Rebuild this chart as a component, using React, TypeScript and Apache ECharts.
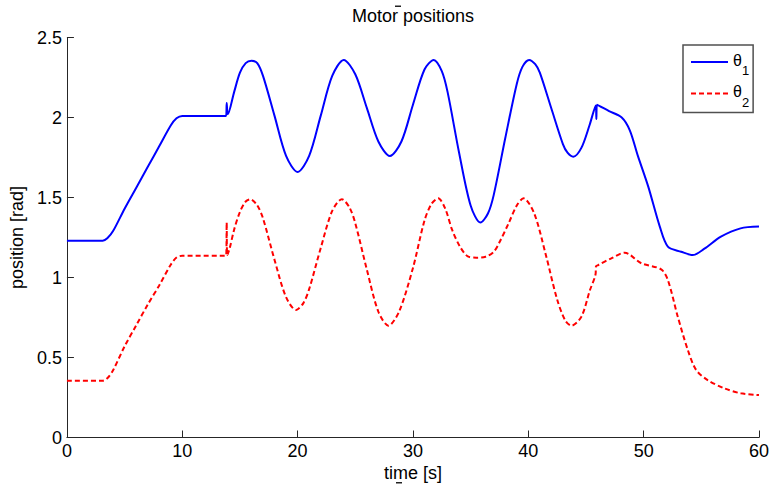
import React, { useEffect, useRef } from "react";
import * as echarts from "echarts";

const FONT = "'Liberation Sans', Arial, Helvetica, sans-serif";

const xTicks = { min: 0, max: 60, interval: 10 };
const yTicks = { min: 0, max: 2.5, interval: 0.5 };

const seriesNames = ["θ1", "θ2"];

const theta1: [number, number][] = [
  [0, 1.23], [3.1, 1.23], [3.5, 1.245], [4, 1.29], [5, 1.43], [6, 1.56], [7, 1.69],
  [8, 1.82], [9, 1.95], [9.5, 1.995], [10, 2.01], [13.8, 2.01], [13.85, 2.09],
  [13.95, 2.02], [14.5, 2.16], [15, 2.28], [15.5, 2.34], [16, 2.355], [16.5, 2.34],
  [17, 2.26], [18, 2.01], [19, 1.76], [20, 1.66], [21, 1.76], [22, 2.01], [23, 2.26],
  [24, 2.36], [25, 2.27], [26, 2.06], [27, 1.85], [28, 1.76], [29, 1.85], [30, 2.08],
  [31, 2.3], [31.8, 2.36], [32.5, 2.29], [33, 2.16], [34, 1.78], [35, 1.45],
  [35.85, 1.343], [36.5, 1.4], [37, 1.515], [38, 1.87], [39, 2.21], [39.5, 2.318],
  [40.07, 2.36], [40.6, 2.333], [41, 2.28], [42, 2.056], [43, 1.834], [43.4, 1.78],
  [43.9, 1.755], [44.6, 1.81], [45.3, 1.95], [45.85, 2.075], [45.9, 1.99],
  [45.95, 2.08], [47, 2.04], [48.1, 2.0], [48.8, 1.92], [49.5, 1.76], [50.4, 1.568],
  [51.4, 1.318], [52.1, 1.193], [53.25, 1.161], [54.26, 1.14], [55.27, 1.18],
  [56.7, 1.255], [58.4, 1.307], [60, 1.318],
];

const theta2: [number, number][] = [
  [0, 0.355], [3.1, 0.355], [3.5, 0.37], [4, 0.42], [5, 0.57], [6, 0.7], [7, 0.83],
  [8, 0.95], [9, 1.08], [9.5, 1.125], [10, 1.136], [13.8, 1.136], [13.85, 1.343],
  [13.9, 1.14], [14.1, 1.18], [14.5, 1.3], [15, 1.41], [15.5, 1.475], [15.9, 1.489],
  [16.5, 1.451], [17, 1.37], [18, 1.11], [19, 0.877], [19.87, 0.797], [20.5, 0.84],
  [21, 0.927], [22, 1.183], [23, 1.416], [23.84, 1.489], [24.5, 1.437], [25, 1.339],
  [26, 1.05], [27, 0.786], [27.87, 0.699], [28.8, 0.787], [30, 1.06], [31, 1.356],
  [31.6, 1.459], [32.19, 1.495], [32.8, 1.43], [33.4, 1.297], [34.1, 1.19],
  [34.8, 1.13], [35.5, 1.124], [36.3, 1.13], [37, 1.16], [37.5, 1.22], [38.3, 1.34],
  [39, 1.45], [39.58, 1.495], [40.5, 1.403], [41.5, 1.147], [42.5, 0.863],
  [43.2, 0.732], [43.75, 0.699], [44.6, 0.755], [45.34, 0.92], [45.83, 1.02],
  [45.87, 1.07], [46.06, 1.078], [47.2, 1.12], [48.36, 1.155], [49.8, 1.089],
  [51.52, 1.051], [52.1, 0.984], [52.96, 0.755], [53.83, 0.547], [54.55, 0.422],
  [55.55, 0.359], [57.0, 0.307], [58.43, 0.276], [60, 0.265],
];

const AXIS_COLOR = "#262626";

export default function App() {
  const ref = useRef<HTMLDivElement>(null);

  useEffect(() => {
    if (!ref.current) return;
    const chart = echarts.init(ref.current, undefined, { renderer: "svg" });
    const axisCommon = {
      axisLine: { show: true, lineStyle: { color: AXIS_COLOR, width: 1 } },
      axisTick: { show: true, inside: true, length: 7, lineStyle: { color: AXIS_COLOR, width: 1 } },
      splitLine: { show: false },
      nameTextStyle: { fontSize: 18, color: "#000", fontFamily: FONT },
    };
    chart.setOption({
      animation: false,
      backgroundColor: "#ffffff",
      title: {
        text: "Motor positions",
        left: 352,
        top: 7,
        padding: 0,
        textStyle: { fontSize: 18, fontWeight: "normal", color: "#000", fontFamily: FONT },
      },
      grid: { left: 66.5, right: 10.5, top: 37.5, bottom: 50.5 },
      xAxis: {
        type: "value",
        ...xTicks,
        name: "time [s]",
        nameLocation: "middle",
        nameGap: 18,
        ...axisCommon,
        axisLabel: { fontSize: 18, color: "#000", margin: 4, fontFamily: FONT },
      },
      yAxis: {
        type: "value",
        ...yTicks,
        name: "position [rad]",
        nameLocation: "middle",
        nameRotate: 90,
        nameGap: 38,
        ...axisCommon,
        axisLabel: { fontSize: 18, color: "#000", margin: 5, fontFamily: FONT },
      },
      legend: {
        data: seriesNames,
        orient: "vertical",
        left: 683,
        top: 45,
        padding: [2, 4, 4, 7],
        itemGap: 1.6,
        itemWidth: 37,
        itemHeight: 14,
        borderColor: "#505050",
        borderWidth: 1.5,
        backgroundColor: "#fff",
        itemStyle: { opacity: 0 },
        formatter: (name: string) => `{t|θ}{s|${name.slice(1)}}`,
        textStyle: {
          color: "#000",
          fontFamily: FONT,
          rich: {
            t: { fontSize: 16, lineHeight: 16, padding: [5, 0, 9, 0], color: "#000", fontFamily: FONT },
            s: { fontSize: 13, lineHeight: 13, padding: [17, 0, 0, 0], color: "#000", fontFamily: FONT },
          },
        },
      },
      graphic: [
        { type: "rect", shape: { x: 395, y: 5.5, width: 6, height: 1.5 }, style: { fill: "#222" } },
        { type: "rect", shape: { x: 396, y: 482, width: 6, height: 1.5 }, style: { fill: "#222" } },
      ],
      series: [
        {
          type: "line",
          name: seriesNames[0],
          data: theta1,
          symbol: "none",
          showSymbol: false,
          smooth: 0.3,
          lineStyle: { color: "#0000ff", width: 2 },
          itemStyle: { color: "#0000ff" },
        },
        {
          type: "line",
          name: seriesNames[1],
          data: theta2,
          symbol: "none",
          showSymbol: false,
          smooth: 0.3,
          lineStyle: { color: "#ff0000", width: 2, type: [5, 3] },
          itemStyle: { color: "#ff0000" },
        },
      ],
    });
    return () => chart.dispose();
  }, []);

  return (
    <div
      ref={ref}
      style={{ position: "fixed", left: 0, top: 0, width: 772, height: 488, background: "#fff" }}
    />
  );
}
